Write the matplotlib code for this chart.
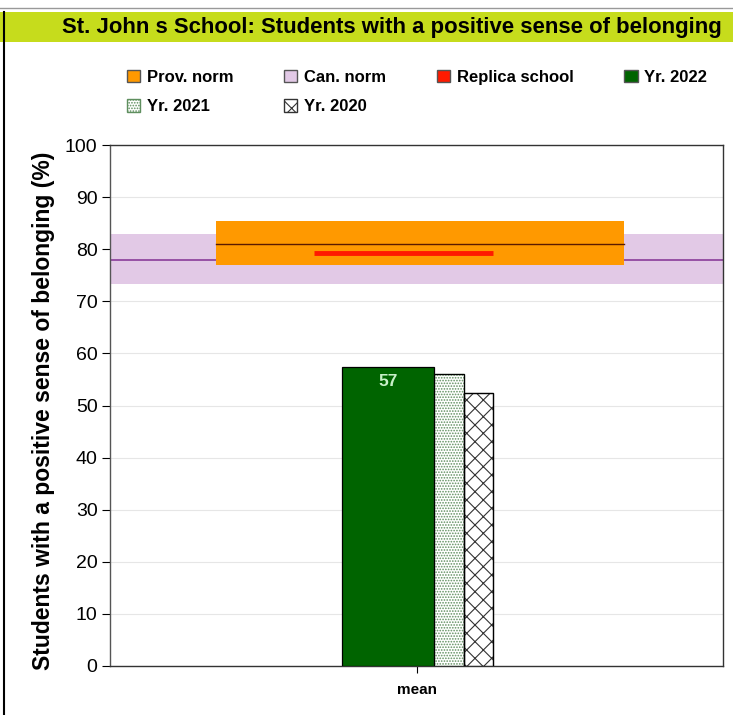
import matplotlib
matplotlib.use("Agg")
import matplotlib.pyplot as plt
from matplotlib.patches import Rectangle, Patch
from matplotlib.lines import Line2D

plt.rcParams['font.family'] = ['Liberation Sans', 'DejaVu Sans']
plt.rcParams['hatch.linewidth'] = 0.8

# Data
category = "mean"
prov_norm = {"low": 77.0, "mid": 81.0, "high": 85.4}
can_norm = {"low": 73.3, "mid": 77.9, "high": 82.9}
replica_school = 79.3
years = ["Yr. 2022", "Yr. 2021", "Yr. 2020"]
year_values = [57.4, 56.0, 52.4]
title = "St. John s School: Students with a positive sense of belonging"
ylabel = "Students with a positive sense of belonging (%)"
yticks = list(range(0, 101, 10))

fig = plt.figure(figsize=(7.33, 7.15), dpi=100)
W, H = 733, 715

# Title band
fig.patches.append(Rectangle((0, 1 - 42 / H), 1, 30 / H, transform=fig.transFigure,
                             facecolor="#c6dc1c", edgecolor="none", zorder=0))
fig.lines.append(Line2D([0, 1], [1 - 8 / H, 1 - 8 / H], transform=fig.transFigure,
                        color="#999999", lw=1))
fig.lines.append(Line2D([4 / W, 4 / W], [0, 1 - 12 / H], transform=fig.transFigure,
                        color="black", lw=1.5))
fig.text(62 / W, 1 - 27 / H, title, fontsize=15.9, fontweight="bold",
         va="center", ha="left")

ax = fig.add_axes([110 / W, 1 - 666 / H, 613 / W, 521 / H])
ax.set_xlim(0, 1)
ax.set_ylim(0, 100)

# Canadian norm band (outer) and provincial norm band (inner)
ax.axhspan(can_norm["low"], can_norm["high"], color="#e2c9e6", zorder=1, lw=0)
ax.axhline(can_norm["mid"], color="#8a3c9a", lw=1.2, zorder=2)
px0, px1 = (216 - 110) / 613, (624 - 110) / 613
ax.add_patch(Rectangle((px0, prov_norm["low"]), px1 - px0,
                       prov_norm["high"] - prov_norm["low"],
                       facecolor="#ff9900", edgecolor="none", zorder=3))
ax.plot([px0, px1], [prov_norm["mid"]] * 2, color="#5a1a00", lw=1.0, zorder=4)

# Replica school line
ax.plot([0.333, 0.625], [replica_school] * 2, color="#ff1a00", lw=3.5, zorder=5,
        solid_capstyle="butt")

# Year bars
lefts = [0.379, 0.529, 0.578]
widths = [0.150, 0.049, 0.047]
styles = [
    dict(facecolor="#006400", edgecolor="black", hatch=None),
    dict(facecolor="white", edgecolor="#5f8f5f", hatch="......"),
    dict(facecolor="white", edgecolor="#333333", hatch="xx"),
]
for left, w, v, st in zip(lefts, widths, year_values, styles):
    ax.bar(left, v, width=w, align="edge", zorder=6, linewidth=0.9, **st)
    if st["hatch"]:
        # outline in black over the hatch
        ax.bar(left, v, width=w, align="edge", zorder=7, facecolor="none",
               edgecolor="black", linewidth=0.9)
ax.text(lefts[0] + widths[0] / 2, year_values[0] - 2.8, f"{year_values[0]:.0f}",
        color="#c8f0c8", fontweight="bold", fontsize=12.5, ha="center", va="center",
        zorder=8)

# Axes styling
ax.set_yticks(yticks)
ax.set_yticklabels([str(t) for t in yticks], fontsize=14)
ax.set_xticks([0.5])
ax.set_xticklabels([category], fontsize=11, fontweight="bold")
ax.tick_params(axis="y", length=6, width=0.8, pad=3)
ax.tick_params(axis="x", length=5, width=0.8, pad=7)
ax.grid(axis="y", color="#e6e6e6", lw=0.8, zorder=0)
ax.set_axisbelow(True)
for s in ax.spines.values():
    s.set_color("#333333")
    s.set_linewidth(1.0)
ax.spines["left"].set_color("#555555")
ax.set_ylabel(ylabel, fontsize=16.5, fontweight="bold")
ax.yaxis.set_label_coords(-0.09, 0.489)

# Legend (row-wise order: Prov, Can, Replica, 2022 / 2021, 2020)
h_prov = Patch(facecolor="#ff9900", edgecolor="#555555", label="Prov. norm")
h_can = Patch(facecolor="#e2c9e6", edgecolor="#555555", label="Can. norm")
h_rep = Patch(facecolor="#ff1a00", edgecolor="#555555", label="Replica school")
h_22 = Patch(facecolor="#006400", edgecolor="#555555", label=years[0])
h_21 = Patch(facecolor="white", edgecolor="#5f8f5f", hatch="......", label=years[1])
h_20 = Patch(facecolor="white", edgecolor="#333333", hatch="xx", label=years[2])
handles = [h_prov, h_21, h_can, h_20, h_rep, h_22]
leg = fig.legend(handles=handles, ncol=4, loc="upper left",
                 bbox_to_anchor=(120 / W, 1 - 63 / H), frameon=False,
                 prop=dict(size=12, weight="bold"), handlelength=0.8,
                 handleheight=0.8, handletextpad=0.4, columnspacing=3.05,
                 labelspacing=0.85, borderaxespad=0)

fig.savefig("out.png", dpi=100)
